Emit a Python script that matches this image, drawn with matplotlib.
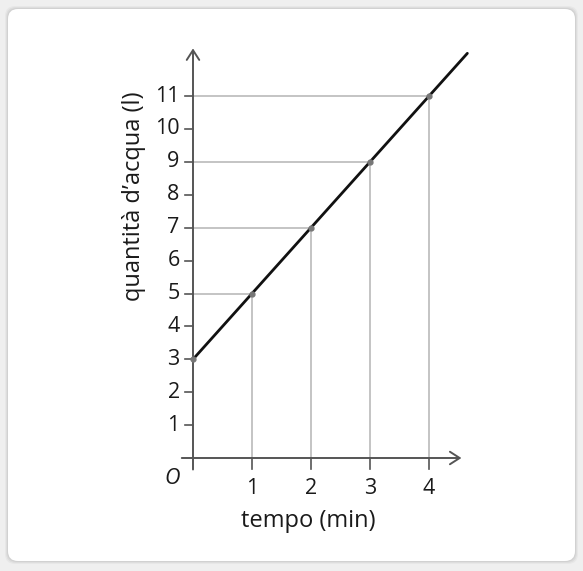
import matplotlib.pyplot as plt
from matplotlib.patches import FancyBboxPatch
import numpy as np

plt.rcParams['font.family'] = ['Open Sans', 'DejaVu Sans']

# data: water quantity vs time, q = 2t + 3
t_pts = [1, 2, 3, 4]
q_pts = [5, 7, 9, 11]
q0 = 3
slope = 2
t_end = 4.65
x_ticks = [1, 2, 3, 4]
y_ticks = list(range(1, 12))
x_label = 'tempo (min)'
y_label = 'quantità d\u2019acqua (l)'

W, H = 583, 571
fig = plt.figure(figsize=(W / 100, H / 100), dpi=100)
fig.patch.set_facecolor('#efefef')

# card with soft shadow
for i, a in enumerate([0.03, 0.04, 0.05]):
    d = 3 - i
    sh = FancyBboxPatch((8 - d, 10 - d), 567 + 2 * d, 552 + 2 * d,
                        boxstyle='round,pad=0,rounding_size=10',
                        transform=None, fc='black', ec='none', alpha=a, zorder=-10)
    fig.patches.append(sh)
card = FancyBboxPatch((8, 10), 567, 552, boxstyle='round,pad=0,rounding_size=10',
                      transform=None, fc='white', ec='none', zorder=-9)
fig.patches.append(card)

# axes spanning the figure; x=0 at px 193, y=0 at px 458 from top
ax = fig.add_axes([0, 0, 1, 1])
ax.set_zorder(5)
ax.patch.set_alpha(0)
px_x, px_y = 59.0, 32.9
ax.set_xlim(-193 / px_x, (W - 193) / px_x)
ax.set_ylim(-(H - 458) / px_y, 458 / px_y)
ax.axis('off')

axis_col = '#555555'
guide_col = '#b4b4b4'
txt_col = '#1a1a1a'
fs_num = 15.5
fs_lab = 17

# guide lines
for t, q in zip(t_pts, q_pts):
    ax.plot([0, t], [q, q], color=guide_col, lw=1.1, zorder=1)
    ax.plot([t, t], [0, q], color=guide_col, lw=1.1, zorder=1)

# axes with open arrows
ax.annotate('', xy=(4.55, 0), xytext=(-0.19, 0),
            arrowprops=dict(arrowstyle='->,head_length=0.7,head_width=0.45',
                            color=axis_col, lw=1.4, shrinkA=0, shrinkB=0))
ax.annotate('', xy=(0, 12.45), xytext=(0, -0.35),
            arrowprops=dict(arrowstyle='->,head_length=0.7,head_width=0.45',
                            color=axis_col, lw=1.4, shrinkA=0, shrinkB=0))

# ticks
tk_x = 8 / px_x
tk_y = 11 / px_y
for y in y_ticks:
    ax.plot([-tk_x, 0], [y, y], color=axis_col, lw=1.2)
    ax.text(-tk_x - 0.09, y, str(y), ha='right', va='center', fontsize=fs_num, color=txt_col)
for x in x_ticks:
    ax.plot([x, x], [0, -tk_y], color=axis_col, lw=1.2)
    ax.text(x, -0.92, str(x), ha='center', va='center', fontsize=fs_num, color=txt_col)
ax.text(-0.36, -0.62, 'O', ha='center', va='center', fontsize=fs_num, style='italic', color=txt_col)

# main line
t_line = np.array([0, t_end])
ax.plot(t_line, slope * t_line + q0, color='#111111', lw=2, zorder=3, solid_capstyle='round')
ax.plot(t_pts, q_pts, 'o', color='#777777', ms=3.5, zorder=4)
ax.plot([0], [q0], 'o', color='#777777', ms=3.5, zorder=4)

# labels
ax.text(1.95, -1.92, x_label, ha='center', va='center', fontsize=fs_lab, color=txt_col)
ax.text(-1.0, 7.95, y_label, ha='center', va='center', rotation=90, fontsize=fs_lab, color=txt_col)

fig.savefig('out.png', dpi=100)
